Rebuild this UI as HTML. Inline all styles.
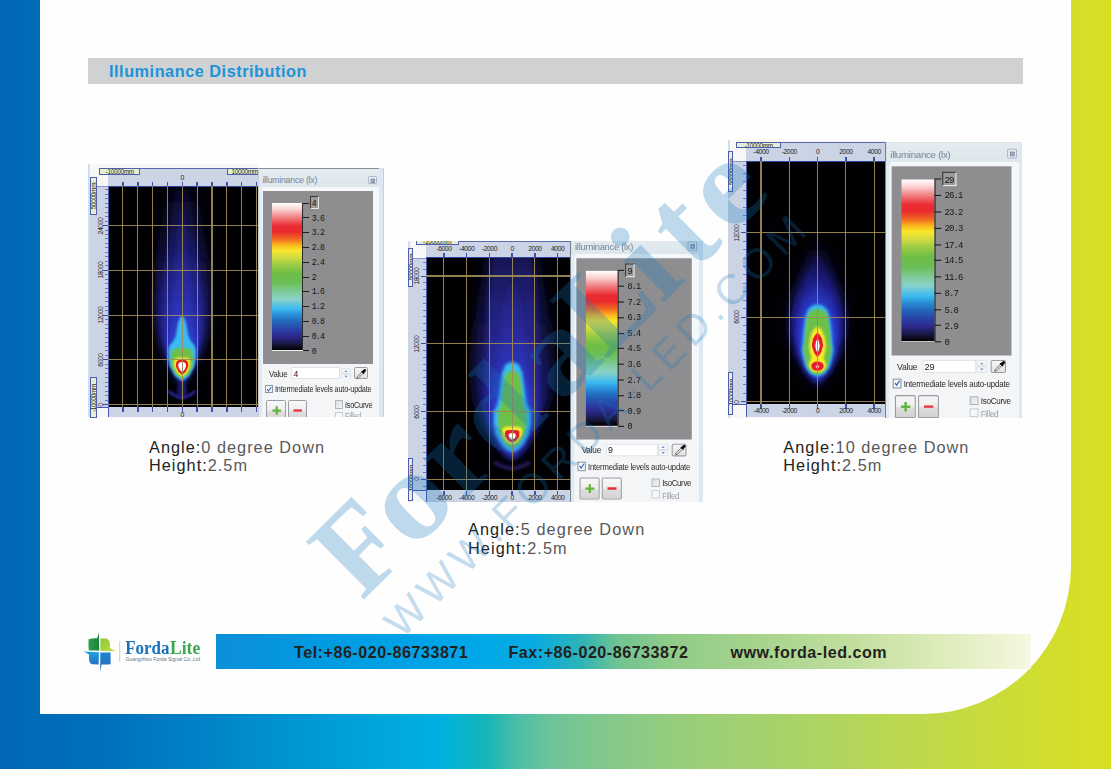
<!DOCTYPE html><html><head><meta charset="utf-8"><title>Illuminance Distribution</title><style>
*{box-sizing:border-box;margin:0;padding:0}
html,body{width:1111px;height:769px;overflow:hidden}
body{position:relative;font-family:"Liberation Sans",sans-serif;
 background:linear-gradient(to right,#0068b7 0px,#006fbc 100px,#0082c7 200px,#0097d4 300px,#00a9de 400px,#00b0e0 440px,#14b5ba 485px,#4fbfa6 520px,#6cc49a 551px,#82c88c 600px,#9bcf78 700px,#aad367 800px,#bbd850 900px,#cbdc38 1000px,#d9e021 1111px);}
.abs{position:absolute}
#paper{position:absolute;left:40px;top:0;width:1031px;height:714px;background:#fefefe;border-bottom-right-radius:148px 148px}
#hdr{position:absolute;left:88px;top:58px;width:935px;height:25.5px;background:#d0d1d3}
#hdr span{position:absolute;left:21px;top:3.5px;font-weight:bold;font-size:16.3px;line-height:18px;color:#1b93d9;white-space:nowrap;letter-spacing:.52px}
.cap{position:absolute;font-size:16.3px;line-height:17.85px;color:#58595b;white-space:nowrap;letter-spacing:1.02px}
.cap b{font-weight:normal;color:#231f20}
#fbar{position:absolute;left:216px;top:634px;width:815px;height:34.6px;
 background:linear-gradient(to right,#0c8fd9 0px,#009ce2 120px,#00a8e8 260px,#08abe0 318px,#2db3b8 364px,#6fc392 402px,#8fcc88 452px,#a5d38c 540px,#c3dfa0 640px,#dcebb8 720px,#eef4d4 790px,#f6f8e4 815px)}
.ft{position:absolute;top:643.2px;font-weight:bold;font-size:16.1px;line-height:18px;color:#231f20;white-space:nowrap;letter-spacing:.52px}

.pn{position:absolute;overflow:hidden}
.pi{position:absolute;left:0;width:126.2px;height:262px;transform-origin:0 0;background:#f4f5f6;font-size:8.4px;color:#222}
.pi div,.pi span,.pi svg{position:absolute}
.pi .tb{left:0;top:0;width:126.2px;height:22px;background:linear-gradient(to bottom,#e6edf1,#dbe5eb)}
.pi .lb{left:0;top:0;width:1.1px;height:262px;background:#76828f}
.pi .rb{left:121.8px;top:0;width:4.4px;height:262px;background:#dde8f3}
.pi .lb2{left:1px;top:18.6px;width:3.3px;height:244px;background:#e2eaf2}
.pi .rb2{left:125.6px;top:0;width:.6px;height:262px;background:#c5d0dc}
.pi .tl{left:0;top:0;width:126.2px;height:.9px;background:#8a8f96}
.pi .tt{left:4.8px;top:6.6px;font-size:8.9px;line-height:10px;color:#75849a;letter-spacing:-.28px;white-space:nowrap}
.pi .cx{left:110.6px;top:7.3px;width:9.1px;height:8.9px;border:.8px solid #a9b7cc;border-radius:1.2px;background:#e9eef3}
.pi .wf{left:4.7px;top:18.6px;width:116.9px;height:178px;background:#f5f8fa}
.pi .ga{left:5.5px;top:22.5px;width:109.7px;height:172.9px;background:#8e8e90}
.pi .cb{left:14.6px;top:34.9px;width:30.2px;height:147.8px}
.pi .cbl{left:14.6px;top:181.6px;width:31px;height:1.3px;background:#f2f2f2}
.pi .cbr{left:44.6px;top:34.9px;width:.9px;height:148px;background:#2a2a2a}
.pi .tk{left:45px;width:6px;height:1px;background:#1c1c1c}
.pi .nl{left:54.2px;font-family:"Liberation Mono",monospace;font-size:8.2px;line-height:9px;letter-spacing:-.85px;color:#161616;white-space:nowrap}
.pi .nb{left:52.1px;top:28.1px;height:12.8px;border:1px solid #3a3a3a;border-right-color:#e8e8e8;border-bottom-color:#e8e8e8;background:#9a9a9c}
.pi .vl{left:11.4px;top:200.4px;line-height:10px;letter-spacing:-.2px;transform-origin:0 50%;transform:scaleX(.93);color:#2a2a2a}
.pi .in{left:33.9px;top:199.1px;width:49px;height:11.8px;background:#fff;border:.8px solid #dfe3e8}
.pi .inv{left:35.8px;top:200.4px;line-height:10px}
.pi .sp{left:82.9px;top:199.1px;width:10px;height:11.8px;border:.8px solid transparent}
.pi .ed{left:96.4px;top:199.1px;width:14px;height:11.8px;background:linear-gradient(to bottom,#f6f6f6,#e2e2e2);border:.9px solid #9a9da2;border-radius:1.6px}
.pi .ck{width:8.2px;height:8.2px;background:#f7f8f9;border:.9px solid #8e99a8}
.pi .il{left:17px;top:215.9px;line-height:10px;letter-spacing:-.2px;white-space:nowrap;transform-origin:0 50%;transform:scaleX(.868);color:#2a2a2a}
.pi .bt{top:231.3px;height:21px;border:.9px solid #9a9da2;border-radius:1.6px;background:linear-gradient(to bottom,#f8f8f8 0%,#ededed 50%,#dedede 52%,#d4d4d4 100%)}
.pi .cl{line-height:10px;letter-spacing:-.3px;white-space:nowrap;transform-origin:0 50%;transform:scaleX(.88);color:#2a2a2a}

.pl{position:absolute}
.pl div,.pl svg,.pl span{position:absolute}
.rl{font-size:6.8px;line-height:8px;color:#1c1c28;letter-spacing:-.42px;white-space:nowrap;transform:translate(-50%,-50%)}
.rv{font-size:6.8px;line-height:8px;color:#1c1c28;letter-spacing:-.42px;white-space:nowrap;transform:translate(-50%,-50%) rotate(-90deg)}
.lbx{background:#e5efd2;border:.8px solid #4f5fae;overflow:hidden}
.lbx span{font-size:6.4px;line-height:7px;color:#2a2a20;letter-spacing:-.3px;white-space:nowrap;left:50%;top:50%}
</style></head><body>
<div id="paper"></div>
<div id="hdr"><span>Illuminance Distribution</span></div>
<div class="abs" style="left:0;top:0;width:383.8px;height:417.5px;overflow:hidden"><div class="pl" style="left:0;top:0;width:0;height:0"><div style="left:88px;top:163.6px;width:170px;height:253.9px;background:#f7f7f8;overflow:hidden"></div><div style="left:88px;top:163.6px;width:1.6px;height:253.9px;background:#cfdff0"></div><div style="left:108.4px;top:168px;width:149.20px;height:18.40px;background:#cbd4e4;border-top:.9px solid #5a6ab2"></div><div style="left:108.4px;top:406.80px;width:149.20px;height:10.70px;background:#cbd4e4"></div><div style="left:94.60px;top:406.95px;width:13.80px;height:.9px;background:#4a5ab0"></div><div style="left:89.6px;top:186.4px;width:18.80px;height:221.00px;background:#cbd4e4;border-top:.9px solid #8a98cc"></div><div style="left:105.20px;top:189.21px;width:3.2px;height:.9px;background:#6a7ac6"></div><div style="left:105.20px;top:193.69px;width:3.2px;height:.9px;background:#6a7ac6"></div><div style="left:105.20px;top:198.17px;width:3.2px;height:.9px;background:#6a7ac6"></div><div style="left:105.20px;top:202.65px;width:3.2px;height:.9px;background:#6a7ac6"></div><div style="left:105.20px;top:207.13px;width:3.2px;height:.9px;background:#6a7ac6"></div><div style="left:105.20px;top:211.61px;width:3.2px;height:.9px;background:#6a7ac6"></div><div style="left:105.20px;top:216.09px;width:3.2px;height:.9px;background:#6a7ac6"></div><div style="left:105.20px;top:220.57px;width:3.2px;height:.9px;background:#6a7ac6"></div><div style="left:102.80px;top:225.05px;width:5.6px;height:.9px;background:#3448b4"></div><div style="left:105.20px;top:229.53px;width:3.2px;height:.9px;background:#6a7ac6"></div><div style="left:105.20px;top:234.01px;width:3.2px;height:.9px;background:#6a7ac6"></div><div style="left:105.20px;top:238.49px;width:3.2px;height:.9px;background:#6a7ac6"></div><div style="left:105.20px;top:242.97px;width:3.2px;height:.9px;background:#6a7ac6"></div><div style="left:105.20px;top:247.45px;width:3.2px;height:.9px;background:#6a7ac6"></div><div style="left:105.20px;top:251.93px;width:3.2px;height:.9px;background:#6a7ac6"></div><div style="left:105.20px;top:256.41px;width:3.2px;height:.9px;background:#6a7ac6"></div><div style="left:105.20px;top:260.89px;width:3.2px;height:.9px;background:#6a7ac6"></div><div style="left:105.20px;top:265.37px;width:3.2px;height:.9px;background:#6a7ac6"></div><div style="left:102.80px;top:269.85px;width:5.6px;height:.9px;background:#3448b4"></div><div style="left:105.20px;top:274.33px;width:3.2px;height:.9px;background:#6a7ac6"></div><div style="left:105.20px;top:278.81px;width:3.2px;height:.9px;background:#6a7ac6"></div><div style="left:105.20px;top:283.29px;width:3.2px;height:.9px;background:#6a7ac6"></div><div style="left:105.20px;top:287.77px;width:3.2px;height:.9px;background:#6a7ac6"></div><div style="left:105.20px;top:292.25px;width:3.2px;height:.9px;background:#6a7ac6"></div><div style="left:105.20px;top:296.73px;width:3.2px;height:.9px;background:#6a7ac6"></div><div style="left:105.20px;top:301.21px;width:3.2px;height:.9px;background:#6a7ac6"></div><div style="left:105.20px;top:305.69px;width:3.2px;height:.9px;background:#6a7ac6"></div><div style="left:105.20px;top:310.17px;width:3.2px;height:.9px;background:#6a7ac6"></div><div style="left:102.80px;top:314.65px;width:5.6px;height:.9px;background:#3448b4"></div><div style="left:105.20px;top:319.13px;width:3.2px;height:.9px;background:#6a7ac6"></div><div style="left:105.20px;top:323.61px;width:3.2px;height:.9px;background:#6a7ac6"></div><div style="left:105.20px;top:328.09px;width:3.2px;height:.9px;background:#6a7ac6"></div><div style="left:105.20px;top:332.57px;width:3.2px;height:.9px;background:#6a7ac6"></div><div style="left:105.20px;top:337.05px;width:3.2px;height:.9px;background:#6a7ac6"></div><div style="left:105.20px;top:341.53px;width:3.2px;height:.9px;background:#6a7ac6"></div><div style="left:105.20px;top:346.01px;width:3.2px;height:.9px;background:#6a7ac6"></div><div style="left:105.20px;top:350.49px;width:3.2px;height:.9px;background:#6a7ac6"></div><div style="left:105.20px;top:354.97px;width:3.2px;height:.9px;background:#6a7ac6"></div><div style="left:102.80px;top:359.45px;width:5.6px;height:.9px;background:#3448b4"></div><div style="left:105.20px;top:363.93px;width:3.2px;height:.9px;background:#6a7ac6"></div><div style="left:105.20px;top:368.41px;width:3.2px;height:.9px;background:#6a7ac6"></div><div style="left:105.20px;top:372.89px;width:3.2px;height:.9px;background:#6a7ac6"></div><div style="left:105.20px;top:377.37px;width:3.2px;height:.9px;background:#6a7ac6"></div><div style="left:105.20px;top:381.85px;width:3.2px;height:.9px;background:#6a7ac6"></div><div style="left:105.20px;top:386.33px;width:3.2px;height:.9px;background:#6a7ac6"></div><div style="left:105.20px;top:390.81px;width:3.2px;height:.9px;background:#6a7ac6"></div><div style="left:105.20px;top:395.29px;width:3.2px;height:.9px;background:#6a7ac6"></div><div style="left:105.20px;top:399.77px;width:3.2px;height:.9px;background:#6a7ac6"></div><div style="left:102.80px;top:404.25px;width:5.6px;height:.9px;background:#3448b4"></div><div style="left:108.4px;top:186.4px;width:149.20px;height:221.00px;background:#010103"></div><div style="left:107.90px;top:185.80px;width:149.70px;height:.9px;background:#3444a4"></div><div style="left:107.80px;top:185.80px;width:.9px;height:231.70px;background:#4a5ab0"></div><svg style="left:108.4px;top:186.4px;width:149.20px;height:221.00px" viewBox="108.4 186.4 149.20 221.00" preserveAspectRatio="none"><defs><filter id="a1" x="-50%" y="-50%" width="200%" height="200%"><feGaussianBlur stdDeviation="4"/></filter><filter id="a2" x="-50%" y="-50%" width="200%" height="200%"><feGaussianBlur stdDeviation="2.8"/></filter><filter id="a3" x="-50%" y="-50%" width="200%" height="200%"><feGaussianBlur stdDeviation="1.3"/></filter><filter id="a4" x="-50%" y="-50%" width="200%" height="200%"><feGaussianBlur stdDeviation="0.8"/></filter><filter id="a5" x="-50%" y="-50%" width="200%" height="200%"><feGaussianBlur stdDeviation="0.45"/></filter><linearGradient id="ag1" gradientUnits="userSpaceOnUse" x1="0" y1="186" x2="0" y2="340"><stop offset="0" stop-color="#18185c" stop-opacity="0.14"/><stop offset="0.3" stop-color="#181860" stop-opacity="0.42"/><stop offset="0.7" stop-color="#1a1a6c" stop-opacity="0.85"/><stop offset="1" stop-color="#1c1c78" stop-opacity="0.95"/></linearGradient><linearGradient id="ag2" gradientUnits="userSpaceOnUse" x1="0" y1="186" x2="0" y2="340"><stop offset="0" stop-color="#24248c" stop-opacity="0.1"/><stop offset="0.3" stop-color="#242490" stop-opacity="0.36"/><stop offset="0.8" stop-color="#28289c" stop-opacity="0.88"/><stop offset="1" stop-color="#2828a8" stop-opacity="1"/></linearGradient><linearGradient id="ag3" gradientUnits="userSpaceOnUse" x1="0" y1="200" x2="0" y2="340"><stop offset="0" stop-color="#2a2eae" stop-opacity="0.05"/><stop offset="0.4" stop-color="#2a30b2" stop-opacity="0.35"/><stop offset="0.8" stop-color="#2a36c0" stop-opacity="0.8"/><stop offset="1" stop-color="#2a40d0" stop-opacity="0.95"/></linearGradient></defs><path filter="url(#a1)" fill="url(#ag1)" d="M182.5,387.0 L172.5,372.0 L165.5,358.0 L158.5,340.0 L154.5,318.0 L154.0,295.0 L155.5,270.0 L158.5,245.0 L162.5,220.0 L166.5,200.0 L169.5,182.0 L195.5,182.0 L198.5,200.0 L202.5,220.0 L206.5,245.0 L209.5,270.0 L211.0,295.0 L210.5,318.0 L206.5,340.0 L199.5,358.0 L192.5,372.0 L182.5,387.0Z"/><path filter="url(#a2)" fill="url(#ag2)" d="M182.5,385.0 L174.5,372.0 L168.5,358.0 L163.5,340.0 L161.5,318.0 L162.5,295.0 L165.5,270.0 L168.5,245.0 L171.5,220.0 L174.5,200.0 L176.5,184.0 L188.5,184.0 L190.5,200.0 L193.5,220.0 L196.5,245.0 L199.5,270.0 L202.5,295.0 L203.5,318.0 L201.5,340.0 L196.5,358.0 L190.5,372.0 L182.5,385.0Z"/><path filter="url(#a2)" fill="url(#ag3)" d="M182.5,384.0 L175.5,372.0 L170.5,358.0 L168.5,345.0 L170.5,325.0 L172.5,300.0 L174.5,275.0 L176.5,250.0 L178.5,225.0 L180.5,205.0 L184.5,205.0 L186.5,225.0 L188.5,250.0 L190.5,275.0 L192.5,300.0 L194.5,325.0 L196.5,345.0 L194.5,358.0 L189.5,372.0 L182.5,384.0Z"/><path filter="url(#a3)" fill="#3abcf0" d="M182.5,381.5 L175.5,376.5 L170.2,367.0 L168.7,358.0 L168.7,350.0 L170.0,346.0 L173.5,342.0 L176.0,337.0 L177.3,330.0 L178.5,323.0 L180.5,318.0 L182.5,315.5 L182.5,315.5 L184.5,318.0 L186.5,323.0 L187.7,330.0 L189.0,337.0 L191.5,342.0 L195.0,346.0 L196.3,350.0 L196.3,358.0 L194.8,367.0 L189.5,376.5 L182.5,381.5Z"/><path filter="url(#a4)" fill="#6cc04a" d="M182.5,379.3 L176.5,375.0 L172.3,367.0 L171.7,358.0 L172.1,351.5 L175.5,349.0 L182.5,348.4 L182.5,348.4 L189.5,349.0 L192.9,351.5 L193.3,358.0 L192.7,367.0 L188.5,375.0 L182.5,379.3Z"/><path filter="url(#a4)" fill="#f6e92a" d="M182.5,377.6 L177.5,373.5 L174.2,367.0 L174.2,361.0 L176.5,358.2 L182.5,357.7 L182.5,357.7 L188.5,358.2 L190.8,361.0 L190.8,367.0 L187.5,373.5 L182.5,377.6Z"/><path filter="url(#a5)" fill="#e61f2c" d="M182.5,375.2 L179.0,372.5 L176.3,367.0 L176.7,362.5 L179.0,360.4 L182.5,360.1 L182.5,360.1 L186.0,360.4 L188.3,362.5 L188.7,367.0 L186.0,372.5 L182.5,375.2Z"/><path filter="url(#a5)" fill="#fff" d="M182.5,372.6 L180.0,370.0 L178.5,366.5 L178.9,363.8 L180.5,362.7 L182.5,362.5 L182.5,362.5 L184.5,362.7 L186.1,363.8 L186.5,366.5 L185.0,370.0 L182.5,372.6Z"/><path filter="url(#a3)" fill="#20208a" opacity=".7" d="M182.5,399.0 L177.5,396.0 L177.5,390.0 L178.5,384.0 L186.5,384.0 L187.5,390.0 L187.5,396.0 L182.5,399.0Z"/><path filter="url(#a3)" fill="none" stroke="#2c2cb0" stroke-width="2.8" opacity=".9" d="M169.0,391.5 Q176.5,397.5 182.5,398.5 Q188.5,397.5 196.0,391.5"/></svg><div style="left:122.35px;top:186.4px;width:1.1px;height:221.00px;background:#9f8b58;opacity:.92"></div><div style="left:122.10px;top:181.60px;width:1.6px;height:4.8px;background:#3f50aa"></div><div style="left:122.10px;top:407.4px;width:1.6px;height:4.6px;background:#3f50aa"></div><div style="left:137.20px;top:186.4px;width:1.1px;height:221.00px;background:#9f8b58;opacity:.92"></div><div style="left:136.95px;top:181.60px;width:1.6px;height:4.8px;background:#3f50aa"></div><div style="left:136.95px;top:407.4px;width:1.6px;height:4.6px;background:#3f50aa"></div><div style="left:152.05px;top:186.4px;width:1.1px;height:221.00px;background:#9f8b58;opacity:.92"></div><div style="left:151.80px;top:181.60px;width:1.6px;height:4.8px;background:#3f50aa"></div><div style="left:151.80px;top:407.4px;width:1.6px;height:4.6px;background:#3f50aa"></div><div style="left:166.90px;top:186.4px;width:1.1px;height:221.00px;background:#9f8b58;opacity:.92"></div><div style="left:166.65px;top:181.60px;width:1.6px;height:4.8px;background:#3f50aa"></div><div style="left:166.65px;top:407.4px;width:1.6px;height:4.6px;background:#3f50aa"></div><div style="left:181.75px;top:186.4px;width:1.1px;height:221.00px;background:#9f8b58;opacity:.92"></div><div style="left:181.50px;top:181.60px;width:1.6px;height:4.8px;background:#3f50aa"></div><div style="left:181.50px;top:407.4px;width:1.6px;height:4.6px;background:#3f50aa"></div><div style="left:196.60px;top:186.4px;width:1.1px;height:221.00px;background:#9f8b58;opacity:.92"></div><div style="left:196.35px;top:181.60px;width:1.6px;height:4.8px;background:#3f50aa"></div><div style="left:196.35px;top:407.4px;width:1.6px;height:4.6px;background:#3f50aa"></div><div style="left:211.45px;top:186.4px;width:1.1px;height:221.00px;background:#9f8b58;opacity:.92"></div><div style="left:211.20px;top:181.60px;width:1.6px;height:4.8px;background:#3f50aa"></div><div style="left:211.20px;top:407.4px;width:1.6px;height:4.6px;background:#3f50aa"></div><div style="left:226.30px;top:186.4px;width:1.1px;height:221.00px;background:#9f8b58;opacity:.92"></div><div style="left:226.05px;top:181.60px;width:1.6px;height:4.8px;background:#3f50aa"></div><div style="left:226.05px;top:407.4px;width:1.6px;height:4.6px;background:#3f50aa"></div><div style="left:241.15px;top:186.4px;width:1.1px;height:221.00px;background:#9f8b58;opacity:.92"></div><div style="left:240.90px;top:181.60px;width:1.6px;height:4.8px;background:#3f50aa"></div><div style="left:240.90px;top:407.4px;width:1.6px;height:4.6px;background:#3f50aa"></div><div style="left:256.00px;top:186.4px;width:1.1px;height:221.00px;background:#9f8b58;opacity:.92"></div><div style="left:255.75px;top:181.60px;width:1.6px;height:4.8px;background:#3f50aa"></div><div style="left:255.75px;top:407.4px;width:1.6px;height:4.6px;background:#3f50aa"></div><div style="left:108.4px;top:404.15px;width:149.20px;height:1.1px;background:#9f8b58;opacity:.92"></div><div style="left:108.4px;top:359.35px;width:149.20px;height:1.1px;background:#9f8b58;opacity:.92"></div><div style="left:108.4px;top:314.55px;width:149.20px;height:1.1px;background:#9f8b58;opacity:.92"></div><div style="left:108.4px;top:269.75px;width:149.20px;height:1.1px;background:#9f8b58;opacity:.92"></div><div style="left:108.4px;top:224.95px;width:149.20px;height:1.1px;background:#9f8b58;opacity:.92"></div><span class="rl" style="left:182.30px;top:177.6px">0</span><span class="rl" style="left:182.30px;top:414.6px">0</span><span class="rv" style="left:100.6px;top:404.70px">0</span><span class="rv" style="left:100.6px;top:359.90px">6000</span><span class="rv" style="left:100.6px;top:315.10px">12000</span><span class="rv" style="left:100.6px;top:270.30px">18000</span><span class="rv" style="left:100.6px;top:225.50px">24000</span><div class="lbx" style="left:99.1px;top:168px;width:41.20px;height:6.90px"><span style="transform:translate(-50%,-50%)">-10000mm</span></div><div class="lbx" style="left:227.4px;top:168px;width:34.60px;height:6.90px"><span style="transform:translate(-50%,-50%)">10000mm</span></div><div class="lbx" style="left:90.2px;top:177.4px;width:6.50px;height:37.20px"><span style="transform:translate(-50%,-50%) rotate(-90deg)">50000mm</span></div><div class="lbx" style="left:90.2px;top:377.4px;width:6.50px;height:41.10px"><span style="transform:translate(-50%,-50%) rotate(-90deg)">-10000mm</span></div></div></div>
<div class="abs" style="left:0;top:240.7px;width:703.3px;height:261.8px;overflow:hidden"><div class="abs" style="left:0;top:-240.7px"><div class="pl" style="left:0;top:0;width:0;height:0"><div style="left:408px;top:240.7px;width:163px;height:261.8px;background:#f7f7f8;overflow:hidden"></div><div style="left:408px;top:240.7px;width:1.6px;height:261.8px;background:#cfdff0"></div><div style="left:426.2px;top:240.7px;width:144.20px;height:17.10px;background:#cbd4e4;border-top:.9px solid #5a6ab2"></div><div style="left:426.2px;top:489.90px;width:144.20px;height:12.60px;background:#cbd4e4"></div><div style="left:413.00px;top:490.05px;width:13.20px;height:.9px;background:#4a5ab0"></div><div style="left:408px;top:257.8px;width:18.20px;height:232.70px;background:#cbd4e4;border-top:.9px solid #8a98cc"></div><div style="left:423.00px;top:262.11px;width:3.2px;height:.9px;background:#6a7ac6"></div><div style="left:423.00px;top:268.88px;width:3.2px;height:.9px;background:#6a7ac6"></div><div style="left:420.60px;top:275.65px;width:5.6px;height:.9px;background:#3448b4"></div><div style="left:423.00px;top:282.42px;width:3.2px;height:.9px;background:#6a7ac6"></div><div style="left:423.00px;top:289.19px;width:3.2px;height:.9px;background:#6a7ac6"></div><div style="left:423.00px;top:295.96px;width:3.2px;height:.9px;background:#6a7ac6"></div><div style="left:423.00px;top:302.73px;width:3.2px;height:.9px;background:#6a7ac6"></div><div style="left:423.00px;top:309.50px;width:3.2px;height:.9px;background:#6a7ac6"></div><div style="left:423.00px;top:316.27px;width:3.2px;height:.9px;background:#6a7ac6"></div><div style="left:423.00px;top:323.04px;width:3.2px;height:.9px;background:#6a7ac6"></div><div style="left:423.00px;top:329.81px;width:3.2px;height:.9px;background:#6a7ac6"></div><div style="left:423.00px;top:336.58px;width:3.2px;height:.9px;background:#6a7ac6"></div><div style="left:420.60px;top:343.35px;width:5.6px;height:.9px;background:#3448b4"></div><div style="left:423.00px;top:350.12px;width:3.2px;height:.9px;background:#6a7ac6"></div><div style="left:423.00px;top:356.89px;width:3.2px;height:.9px;background:#6a7ac6"></div><div style="left:423.00px;top:363.66px;width:3.2px;height:.9px;background:#6a7ac6"></div><div style="left:423.00px;top:370.43px;width:3.2px;height:.9px;background:#6a7ac6"></div><div style="left:423.00px;top:377.20px;width:3.2px;height:.9px;background:#6a7ac6"></div><div style="left:423.00px;top:383.97px;width:3.2px;height:.9px;background:#6a7ac6"></div><div style="left:423.00px;top:390.74px;width:3.2px;height:.9px;background:#6a7ac6"></div><div style="left:423.00px;top:397.51px;width:3.2px;height:.9px;background:#6a7ac6"></div><div style="left:423.00px;top:404.28px;width:3.2px;height:.9px;background:#6a7ac6"></div><div style="left:420.60px;top:411.05px;width:5.6px;height:.9px;background:#3448b4"></div><div style="left:423.00px;top:417.82px;width:3.2px;height:.9px;background:#6a7ac6"></div><div style="left:423.00px;top:424.59px;width:3.2px;height:.9px;background:#6a7ac6"></div><div style="left:423.00px;top:431.36px;width:3.2px;height:.9px;background:#6a7ac6"></div><div style="left:423.00px;top:438.13px;width:3.2px;height:.9px;background:#6a7ac6"></div><div style="left:423.00px;top:444.90px;width:3.2px;height:.9px;background:#6a7ac6"></div><div style="left:423.00px;top:451.67px;width:3.2px;height:.9px;background:#6a7ac6"></div><div style="left:423.00px;top:458.44px;width:3.2px;height:.9px;background:#6a7ac6"></div><div style="left:423.00px;top:465.21px;width:3.2px;height:.9px;background:#6a7ac6"></div><div style="left:423.00px;top:471.98px;width:3.2px;height:.9px;background:#6a7ac6"></div><div style="left:420.60px;top:478.75px;width:5.6px;height:.9px;background:#3448b4"></div><div style="left:423.00px;top:485.52px;width:3.2px;height:.9px;background:#6a7ac6"></div><div style="left:426.2px;top:257.8px;width:144.20px;height:232.70px;background:#010103"></div><div style="left:425.70px;top:257.20px;width:144.70px;height:.9px;background:#3444a4"></div><div style="left:425.60px;top:257.20px;width:.9px;height:245.30px;background:#4a5ab0"></div><svg style="left:426.2px;top:257.8px;width:144.20px;height:232.70px" viewBox="426.2 257.8 144.20 232.70" preserveAspectRatio="none"><defs><filter id="b1" x="-50%" y="-50%" width="200%" height="200%"><feGaussianBlur stdDeviation="5"/></filter><filter id="b2" x="-50%" y="-50%" width="200%" height="200%"><feGaussianBlur stdDeviation="3.2"/></filter><filter id="b3" x="-50%" y="-50%" width="200%" height="200%"><feGaussianBlur stdDeviation="1.5"/></filter><filter id="b4" x="-50%" y="-50%" width="200%" height="200%"><feGaussianBlur stdDeviation="0.9"/></filter><filter id="b5" x="-50%" y="-50%" width="200%" height="200%"><feGaussianBlur stdDeviation="0.5"/></filter><linearGradient id="bg1" gradientUnits="userSpaceOnUse" x1="0" y1="252" x2="0" y2="400"><stop offset="0" stop-color="#18185c" stop-opacity="0.35"/><stop offset="0.4" stop-color="#181860" stop-opacity="0.6"/><stop offset="1" stop-color="#1a1a6c" stop-opacity="0.92"/></linearGradient><linearGradient id="bg2" gradientUnits="userSpaceOnUse" x1="0" y1="252" x2="0" y2="390"><stop offset="0" stop-color="#28268e" stop-opacity="0.4"/><stop offset="0.4" stop-color="#2a2898" stop-opacity="0.7"/><stop offset="1" stop-color="#2c2aa8" stop-opacity="0.96"/></linearGradient><linearGradient id="bg3" gradientUnits="userSpaceOnUse" x1="0" y1="280" x2="0" y2="400"><stop offset="0" stop-color="#2c30b0" stop-opacity="0.1"/><stop offset="0.5" stop-color="#2c34b8" stop-opacity="0.5"/><stop offset="1" stop-color="#2a42d4" stop-opacity="1"/></linearGradient></defs><path filter="url(#b1)" fill="url(#bg1)" d="M512.4,462.0 L497.4,447.0 L484.4,425.0 L475.4,400.0 L472.4,370.0 L473.4,340.0 L477.4,305.0 L482.4,275.0 L485.4,250.0 L539.4,250.0 L542.4,275.0 L547.4,305.0 L551.4,340.0 L552.4,370.0 L549.4,400.0 L540.4,425.0 L527.4,447.0 L512.4,462.0Z"/><path filter="url(#b2)" fill="url(#bg2)" d="M512.4,459.0 L499.9,447.0 L489.9,428.0 L485.4,405.0 L485.4,370.0 L486.4,335.0 L487.9,300.0 L490.4,270.0 L492.4,250.0 L532.4,250.0 L534.4,270.0 L536.9,300.0 L538.4,335.0 L539.4,370.0 L539.4,405.0 L534.9,428.0 L524.9,447.0 L512.4,459.0Z"/><path filter="url(#b2)" fill="url(#bg3)" d="M512.4,456.0 L502.4,446.0 L494.4,430.0 L491.4,415.0 L493.4,395.0 L496.4,370.0 L499.4,340.0 L503.4,310.0 L507.4,285.0 L517.4,285.0 L521.4,310.0 L525.4,340.0 L528.4,370.0 L531.4,395.0 L533.4,415.0 L530.4,430.0 L522.4,446.0 L512.4,456.0Z"/><path filter="url(#b3)" fill="#3abcf0" d="M512.4,452.0 L506.4,449.0 L501.9,444.5 L496.2,434.5 L493.8,423.0 L494.0,411.5 L497.4,405.0 L498.6,400.0 L500.6,384.0 L502.4,372.0 L505.9,364.0 L512.4,361.2 L512.4,361.2 L518.9,364.0 L522.4,372.0 L524.2,384.0 L526.2,400.0 L527.4,405.0 L530.8,411.5 L531.0,423.0 L528.6,434.5 L522.9,444.5 L518.4,449.0 L512.4,452.0Z"/><path filter="url(#b4)" fill="#6cc04a" d="M512.4,448.4 L506.2,444.6 L500.1,434.5 L498.1,423.0 L498.3,411.5 L501.0,405.5 L501.8,400.7 L503.5,383.8 L504.9,376.0 L508.4,371.2 L512.4,370.0 L512.4,370.0 L516.4,371.2 L519.9,376.0 L521.3,383.8 L523.0,400.7 L523.8,405.5 L526.5,411.5 L526.7,423.0 L524.7,434.5 L518.6,444.6 L512.4,448.4Z"/><path filter="url(#b4)" fill="#f6e92a" d="M512.4,444.8 L506.4,442.0 L502.4,436.0 L502.2,429.3 L504.8,426.6 L512.4,426.2 L512.4,426.2 L520.0,426.6 L522.6,429.3 L522.4,436.0 L518.4,442.0 L512.4,444.8Z"/><path filter="url(#b5)" fill="#e61f2c" d="M512.4,442.4 L508.4,440.3 L505.4,436.0 L505.2,431.5 L506.9,430.0 L512.4,429.7 L512.4,429.7 L517.9,430.0 L519.6,431.5 L519.4,436.0 L516.4,440.3 L512.4,442.4Z"/><path filter="url(#b5)" fill="#fff" d="M512.4,439.9 L509.8,438.0 L508.8,435.5 L509.4,433.4 L512.4,432.7 L512.4,432.7 L515.4,433.4 L516.0,435.5 L515.0,438.0 L512.4,439.9Z"/><path filter="url(#b3)" fill="none" stroke="#3a2a98" stroke-width="3.2" opacity=".7" d="M494.4,462 Q504.4,468 512.4,468.5 Q520.4,468 530.4,462"/></svg><div style="left:443.40px;top:257.8px;width:1.1px;height:232.70px;background:#9f8b58;opacity:.92"></div><div style="left:443.15px;top:253.00px;width:1.6px;height:4.8px;background:#3f50aa"></div><div style="left:443.15px;top:490.5px;width:1.6px;height:4.6px;background:#3f50aa"></div><div style="left:466.15px;top:257.8px;width:1.1px;height:232.70px;background:#9f8b58;opacity:.92"></div><div style="left:465.90px;top:253.00px;width:1.6px;height:4.8px;background:#3f50aa"></div><div style="left:465.90px;top:490.5px;width:1.6px;height:4.6px;background:#3f50aa"></div><div style="left:488.90px;top:257.8px;width:1.1px;height:232.70px;background:#9f8b58;opacity:.92"></div><div style="left:488.65px;top:253.00px;width:1.6px;height:4.8px;background:#3f50aa"></div><div style="left:488.65px;top:490.5px;width:1.6px;height:4.6px;background:#3f50aa"></div><div style="left:511.65px;top:257.8px;width:1.1px;height:232.70px;background:#9f8b58;opacity:.92"></div><div style="left:511.40px;top:253.00px;width:1.6px;height:4.8px;background:#3f50aa"></div><div style="left:511.40px;top:490.5px;width:1.6px;height:4.6px;background:#3f50aa"></div><div style="left:534.40px;top:257.8px;width:1.1px;height:232.70px;background:#9f8b58;opacity:.92"></div><div style="left:534.15px;top:253.00px;width:1.6px;height:4.8px;background:#3f50aa"></div><div style="left:534.15px;top:490.5px;width:1.6px;height:4.6px;background:#3f50aa"></div><div style="left:557.15px;top:257.8px;width:1.1px;height:232.70px;background:#9f8b58;opacity:.92"></div><div style="left:556.90px;top:253.00px;width:1.6px;height:4.8px;background:#3f50aa"></div><div style="left:556.90px;top:490.5px;width:1.6px;height:4.6px;background:#3f50aa"></div><div style="left:426.2px;top:478.65px;width:144.20px;height:1.1px;background:#9f8b58;opacity:.92"></div><div style="left:426.2px;top:410.95px;width:144.20px;height:1.1px;background:#9f8b58;opacity:.92"></div><div style="left:426.2px;top:343.05px;width:144.20px;height:1.1px;background:#9f8b58;opacity:.92"></div><div style="left:426.2px;top:275.45px;width:144.20px;height:1.1px;background:#9f8b58;opacity:.92"></div><span class="rl" style="left:443.95px;top:248.6px">-6000</span><span class="rl" style="left:443.95px;top:497.8px">-6000</span><span class="rl" style="left:466.70px;top:248.6px">-4000</span><span class="rl" style="left:466.70px;top:497.8px">-4000</span><span class="rl" style="left:489.45px;top:248.6px">-2000</span><span class="rl" style="left:489.45px;top:497.8px">-2000</span><span class="rl" style="left:512.20px;top:248.6px">0</span><span class="rl" style="left:512.20px;top:497.8px">0</span><span class="rl" style="left:534.95px;top:248.6px">2000</span><span class="rl" style="left:534.95px;top:497.8px">2000</span><span class="rl" style="left:557.70px;top:248.6px">4000</span><span class="rl" style="left:557.70px;top:497.8px">4000</span><span class="rv" style="left:417px;top:479.20px">0</span><span class="rv" style="left:417px;top:411.50px">6000</span><span class="rv" style="left:417px;top:343.60px">12000</span><span class="rv" style="left:417px;top:276.00px">18000</span><div class="lbx" style="left:415.8px;top:236px;width:42.80px;height:9.10px"><span style="transform:translate(-50%,-50%)">-10000mm</span></div><div class="lbx" style="left:408.4px;top:248.4px;width:4.80px;height:38.20px"><span style="transform:translate(-50%,-50%) rotate(-90deg)">50000mm</span></div><div class="lbx" style="left:408.4px;top:458.3px;width:4.80px;height:42.40px"><span style="transform:translate(-50%,-50%) rotate(-90deg)">-10000mm</span></div></div></div></div>
<div class="abs" style="left:0;top:0;width:1023px;height:418px;overflow:hidden"><div class="pl" style="left:0;top:0;width:0;height:0"><div style="left:728px;top:140px;width:158px;height:278px;background:#f7f7f8;overflow:hidden"></div><div style="left:728px;top:140px;width:1.6px;height:278px;background:#cfdff0"></div><div style="left:746.2px;top:141.5px;width:139.40px;height:19.80px;background:#cbd4e4;border-top:.9px solid #5a6ab2"></div><div style="left:746.2px;top:403.50px;width:139.40px;height:13.50px;background:#cbd4e4"></div><div style="left:733.00px;top:403.65px;width:13.20px;height:.9px;background:#4a5ab0"></div><div style="left:728px;top:161.3px;width:18.20px;height:242.80px;background:#cbd4e4;border-top:.9px solid #8a98cc"></div><div style="left:743.00px;top:164.55px;width:3.2px;height:.9px;background:#6a7ac6"></div><div style="left:743.00px;top:173.00px;width:3.2px;height:.9px;background:#6a7ac6"></div><div style="left:743.00px;top:181.45px;width:3.2px;height:.9px;background:#6a7ac6"></div><div style="left:743.00px;top:189.90px;width:3.2px;height:.9px;background:#6a7ac6"></div><div style="left:743.00px;top:198.35px;width:3.2px;height:.9px;background:#6a7ac6"></div><div style="left:743.00px;top:206.80px;width:3.2px;height:.9px;background:#6a7ac6"></div><div style="left:743.00px;top:215.25px;width:3.2px;height:.9px;background:#6a7ac6"></div><div style="left:743.00px;top:223.70px;width:3.2px;height:.9px;background:#6a7ac6"></div><div style="left:740.60px;top:232.15px;width:5.6px;height:.9px;background:#3448b4"></div><div style="left:743.00px;top:240.60px;width:3.2px;height:.9px;background:#6a7ac6"></div><div style="left:743.00px;top:249.05px;width:3.2px;height:.9px;background:#6a7ac6"></div><div style="left:743.00px;top:257.50px;width:3.2px;height:.9px;background:#6a7ac6"></div><div style="left:743.00px;top:265.95px;width:3.2px;height:.9px;background:#6a7ac6"></div><div style="left:743.00px;top:274.40px;width:3.2px;height:.9px;background:#6a7ac6"></div><div style="left:743.00px;top:282.85px;width:3.2px;height:.9px;background:#6a7ac6"></div><div style="left:743.00px;top:291.30px;width:3.2px;height:.9px;background:#6a7ac6"></div><div style="left:743.00px;top:299.75px;width:3.2px;height:.9px;background:#6a7ac6"></div><div style="left:743.00px;top:308.20px;width:3.2px;height:.9px;background:#6a7ac6"></div><div style="left:740.60px;top:316.65px;width:5.6px;height:.9px;background:#3448b4"></div><div style="left:743.00px;top:325.10px;width:3.2px;height:.9px;background:#6a7ac6"></div><div style="left:743.00px;top:333.55px;width:3.2px;height:.9px;background:#6a7ac6"></div><div style="left:743.00px;top:342.00px;width:3.2px;height:.9px;background:#6a7ac6"></div><div style="left:743.00px;top:350.45px;width:3.2px;height:.9px;background:#6a7ac6"></div><div style="left:743.00px;top:358.90px;width:3.2px;height:.9px;background:#6a7ac6"></div><div style="left:743.00px;top:367.35px;width:3.2px;height:.9px;background:#6a7ac6"></div><div style="left:743.00px;top:375.80px;width:3.2px;height:.9px;background:#6a7ac6"></div><div style="left:743.00px;top:384.25px;width:3.2px;height:.9px;background:#6a7ac6"></div><div style="left:743.00px;top:392.70px;width:3.2px;height:.9px;background:#6a7ac6"></div><div style="left:740.60px;top:401.15px;width:5.6px;height:.9px;background:#3448b4"></div><div style="left:746.2px;top:161.3px;width:139.40px;height:242.80px;background:#010103"></div><div style="left:745.70px;top:160.70px;width:139.90px;height:.9px;background:#3444a4"></div><div style="left:745.60px;top:160.70px;width:.9px;height:256.30px;background:#4a5ab0"></div><svg style="left:746.2px;top:161.3px;width:139.40px;height:242.80px" viewBox="746.2 161.3 139.40 242.80" preserveAspectRatio="none"><defs><filter id="c1" x="-50%" y="-50%" width="200%" height="200%"><feGaussianBlur stdDeviation="4.5"/></filter><filter id="c2" x="-50%" y="-50%" width="200%" height="200%"><feGaussianBlur stdDeviation="3"/></filter><filter id="c3" x="-50%" y="-50%" width="200%" height="200%"><feGaussianBlur stdDeviation="1.4"/></filter><filter id="c4" x="-50%" y="-50%" width="200%" height="200%"><feGaussianBlur stdDeviation="0.85"/></filter><filter id="c5" x="-50%" y="-50%" width="200%" height="200%"><feGaussianBlur stdDeviation="0.5"/></filter><linearGradient id="cg1" gradientUnits="userSpaceOnUse" x1="0" y1="240" x2="0" y2="320"><stop offset="0" stop-color="#181870" stop-opacity="0.1"/><stop offset="0.4" stop-color="#181870" stop-opacity="0.5"/><stop offset="1" stop-color="#1a1a78" stop-opacity="0.9"/></linearGradient><linearGradient id="cg2" gradientUnits="userSpaceOnUse" x1="0" y1="252" x2="0" y2="325"><stop offset="0" stop-color="#2828b4" stop-opacity="0.1"/><stop offset="0.45" stop-color="#2828b4" stop-opacity="0.55"/><stop offset="1" stop-color="#2828b4" stop-opacity="0.95"/></linearGradient><linearGradient id="cg3" gradientUnits="userSpaceOnUse" x1="0" y1="280" x2="0" y2="330"><stop offset="0" stop-color="#2a48dc" stop-opacity="0.15"/><stop offset="1" stop-color="#2a48dc" stop-opacity="0.95"/></linearGradient></defs><path filter="url(#c1)" fill="url(#cg1)" d="M817.7,386.0 L805.7,374.0 L795.7,356.0 L789.7,335.0 L788.7,318.0 L791.7,298.0 L797.7,278.0 L804.7,260.0 L811.7,246.0 L817.7,240.0 L817.7,240.0 L823.7,246.0 L830.7,260.0 L837.7,278.0 L843.7,298.0 L846.7,318.0 L845.7,335.0 L839.7,356.0 L829.7,374.0 L817.7,386.0Z"/><path filter="url(#c2)" fill="url(#cg2)" d="M817.7,382.5 L806.7,371.0 L798.7,354.0 L794.7,335.0 L794.7,318.0 L797.7,300.0 L803.7,281.0 L809.7,266.0 L814.7,256.0 L820.7,256.0 L825.7,266.0 L831.7,281.0 L837.7,300.0 L840.7,318.0 L840.7,335.0 L836.7,354.0 L828.7,371.0 L817.7,382.5Z"/><path filter="url(#c2)" fill="url(#cg3)" d="M817.7,380.5 L807.7,370.0 L801.2,355.0 L799.2,338.0 L800.7,320.0 L804.7,303.0 L810.7,290.0 L815.7,282.0 L819.7,282.0 L824.7,290.0 L830.7,303.0 L834.7,320.0 L836.2,338.0 L834.2,355.0 L827.7,370.0 L817.7,380.5Z"/><path filter="url(#c3)" fill="#3abcf0" d="M817.7,377.0 L810.7,374.3 L805.7,367.5 L803.2,358.0 L801.9,350.0 L802.9,342.0 L803.9,330.0 L805.4,318.0 L808.2,309.5 L813.2,305.6 L817.7,304.6 L817.7,304.6 L822.2,305.6 L827.2,309.5 L830.0,318.0 L831.5,330.0 L832.5,342.0 L833.5,350.0 L832.2,358.0 L829.7,367.5 L824.7,374.3 L817.7,377.0Z"/><path filter="url(#c4)" fill="#6cc04a" d="M817.7,375.0 L811.7,372.5 L807.2,366.0 L805.2,358.0 L803.4,350.0 L804.7,343.0 L805.3,333.0 L806.9,320.0 L809.2,313.0 L813.7,310.0 L817.7,309.1 L817.7,309.1 L821.7,310.0 L826.2,313.0 L828.5,320.0 L830.1,333.0 L830.7,343.0 L832.0,350.0 L830.2,358.0 L828.2,366.0 L823.7,372.5 L817.7,375.0Z"/><path filter="url(#c4)" fill="#f6e92a" d="M817.7,373.4 L812.1,371.4 L808.7,366.5 L809.9,361.5 L811.7,358.5 L809.9,352.0 L809.2,345.0 L810.5,337.0 L813.2,330.2 L817.7,326.2 L817.7,326.2 L822.2,330.2 L824.9,337.0 L826.2,345.0 L825.5,352.0 L823.7,358.5 L825.5,361.5 L826.7,366.5 L823.3,371.4 L817.7,373.4Z"/><path filter="url(#c5)" fill="#e61f2c" d="M817.7,357.8 L814.3,353.0 L812.0,346.0 L813.2,339.0 L815.4,335.3 L817.7,332.9 L817.7,332.9 L820.0,335.3 L822.2,339.0 L823.4,346.0 L821.1,353.0 L817.7,357.8Z"/><path filter="url(#c5)" fill="#fff" d="M817.7,353.6 L816.2,350.0 L815.5,346.0 L816.2,342.0 L817.7,338.9 L817.7,338.9 L819.2,342.0 L819.9,346.0 L819.2,350.0 L817.7,353.6Z"/><ellipse filter="url(#c5)" cx="817.7" cy="366.4" rx="6.2" ry="4.7" fill="#e61f2c"/><ellipse filter="url(#c5)" cx="817.7" cy="366.8" rx="1.9" ry="1.6" fill="#f4a8a0"/></svg><div style="left:760.45px;top:161.3px;width:1.1px;height:242.80px;background:#9f8b58;opacity:.92"></div><div style="left:760.20px;top:156.50px;width:1.6px;height:4.8px;background:#3f50aa"></div><div style="left:760.20px;top:404.1px;width:1.6px;height:4.6px;background:#3f50aa"></div><div style="left:788.75px;top:161.3px;width:1.1px;height:242.80px;background:#9f8b58;opacity:.92"></div><div style="left:788.50px;top:156.50px;width:1.6px;height:4.8px;background:#3f50aa"></div><div style="left:788.50px;top:404.1px;width:1.6px;height:4.6px;background:#3f50aa"></div><div style="left:817.05px;top:161.3px;width:1.1px;height:242.80px;background:#9f8b58;opacity:.92"></div><div style="left:816.80px;top:156.50px;width:1.6px;height:4.8px;background:#3f50aa"></div><div style="left:816.80px;top:404.1px;width:1.6px;height:4.6px;background:#3f50aa"></div><div style="left:845.35px;top:161.3px;width:1.1px;height:242.80px;background:#9f8b58;opacity:.92"></div><div style="left:845.10px;top:156.50px;width:1.6px;height:4.8px;background:#3f50aa"></div><div style="left:845.10px;top:404.1px;width:1.6px;height:4.6px;background:#3f50aa"></div><div style="left:873.65px;top:161.3px;width:1.1px;height:242.80px;background:#9f8b58;opacity:.92"></div><div style="left:873.40px;top:156.50px;width:1.6px;height:4.8px;background:#3f50aa"></div><div style="left:873.40px;top:404.1px;width:1.6px;height:4.6px;background:#3f50aa"></div><div style="left:746.2px;top:401.05px;width:139.40px;height:1.1px;background:#9f8b58;opacity:.92"></div><div style="left:746.2px;top:316.75px;width:139.40px;height:1.1px;background:#9f8b58;opacity:.92"></div><div style="left:746.2px;top:232.15px;width:139.40px;height:1.1px;background:#9f8b58;opacity:.92"></div><span class="rl" style="left:761.00px;top:151.8px">-4000</span><span class="rl" style="left:761.00px;top:411.4px">-4000</span><span class="rl" style="left:789.30px;top:151.8px">-2000</span><span class="rl" style="left:789.30px;top:411.4px">-2000</span><span class="rl" style="left:817.60px;top:151.8px">0</span><span class="rl" style="left:817.60px;top:411.4px">0</span><span class="rl" style="left:845.90px;top:151.8px">2000</span><span class="rl" style="left:845.90px;top:411.4px">2000</span><span class="rl" style="left:874.20px;top:151.8px">4000</span><span class="rl" style="left:874.20px;top:411.4px">4000</span><span class="rv" style="left:737.2px;top:401.60px">0</span><span class="rv" style="left:737.2px;top:317.30px">6000</span><span class="rv" style="left:737.2px;top:232.70px">12000</span><div class="lbx" style="left:736.4px;top:141.5px;width:44.90px;height:6.70px"><span style="transform:translate(-50%,-50%)">-10000mm</span></div><div class="lbx" style="left:728.4px;top:151px;width:4.90px;height:41.00px"><span style="transform:translate(-50%,-50%) rotate(-90deg)">50000mm</span></div><div class="lbx" style="left:728.4px;top:371.6px;width:4.90px;height:43.10px"><span style="transform:translate(-50%,-50%) rotate(-90deg)">-10000mm</span></div></div></div>
<div class="pn" style="left:257.6px;top:168.3px;width:126.2px;height:249.2px"><div class="pi" style="top:0.00px;transform:scale(1.0,1.0)"><div class="tb"></div><div class="tl"></div><div class="tt">illuminance (lx)</div><div class="cx"><svg viewBox="0 0 8 8" style="left:1.1px;top:1.1px;width:5.6px;height:5.6px"><path d="M1.5 1.5h5v5h-5zM1.5 1.5l5 5M6.5 1.5l-5 5" stroke="#6a7686" stroke-width="1.1" fill="none"/></svg></div><div class="wf"></div><div class="ga"></div><div class="cb" style="background:linear-gradient(to bottom,#ffffff 0%,#fbd0d0 4.5%,#f28a8c 9%,#ea2c34 15.5%,#ea2a2e 19.5%,#f26a22 24.5%,#fbb81c 28.5%,#fbe62c 32%,#d4dc40 36.5%,#9ccc44 41.5%,#6cbc46 48%,#6cbf58 54%,#80cba0 60.5%,#8ad2c8 65%,#3cbaf0 71.5%,#2a90d8 75.5%,#2268bc 80%,#2a3ea4 86%,#2c2a8e 90%,#16163c 95.5%,#04040a 98.5%,#000 100%)"></div><div class="cbr"></div><div class="cbl"></div><div class="tk" style="top:34.40px"></div><div class="nb" style="width:9.3px"></div><div class="nl" style="top:30.50px">4</div><div class="tk" style="top:49.18px"></div><div class="nl" style="top:45.28px">3.6</div><div class="tk" style="top:63.96px"></div><div class="nl" style="top:60.06px">3.2</div><div class="tk" style="top:78.74px"></div><div class="nl" style="top:74.84px">2.8</div><div class="tk" style="top:93.52px"></div><div class="nl" style="top:89.62px">2.4</div><div class="tk" style="top:108.30px"></div><div class="nl" style="top:104.40px">2</div><div class="tk" style="top:123.08px"></div><div class="nl" style="top:119.18px">1.6</div><div class="tk" style="top:137.86px"></div><div class="nl" style="top:133.96px">1.2</div><div class="tk" style="top:152.64px"></div><div class="nl" style="top:148.74px">0.8</div><div class="tk" style="top:167.42px"></div><div class="nl" style="top:163.52px">0.4</div><div class="tk" style="top:182.20px"></div><div class="nl" style="top:178.30px">0</div><div class="vl">Value</div><div class="in"></div><div class="inv">4</div><div class="sp"><svg viewBox="0 0 10 12" style="left:-.8px;top:-.8px;width:10px;height:11.8px"><rect x=".4" y=".4" width="9.2" height="5.2" rx=".8" fill="#f4f6f8" stroke="#d4d9df" stroke-width=".7"/><rect x=".4" y="6.4" width="9.2" height="5.2" rx=".8" fill="#f4f6f8" stroke="#d4d9df" stroke-width=".7"/><path d="M3.4 4L5 2.3L6.6 4zM3.4 8L5 9.7L6.6 8z" fill="#5b86d6"/></svg></div><div class="ed"><svg viewBox="0 0 14 12" style="left:-.9px;top:-.9px;width:14px;height:11.8px"><path d="M2.6 10.4L3.1 9L8.3 3.8L9.5 5L4.3 10.2z" fill="#fafafa" stroke="#2a2a2a" stroke-width=".65"/><path d="M7.7 3L10.3 5.6" stroke="#111" stroke-width="1.3"/><path d="M9.4 3.9L10.9 2.4" stroke="#0a0a0a" stroke-width="2.7" stroke-linecap="round"/></svg></div><div class="ck" style="left:7px;top:216.4px"><svg viewBox="0 0 8 8" style="left:0;top:0;width:6.4px;height:6.4px"><path d="M1.4 3.8L3.2 6.2L6.6 1.2" stroke="#2f5fc4" stroke-width="1.3" fill="none"/></svg></div><div class="il">Intermediate levels auto-update</div><div class="bt" style="left:8.8px;width:19.3px"><svg viewBox="0 0 20 21" style="left:-.9px;top:-.9px;width:19.3px;height:21px"><path d="M10.1 6.2v8.8M5.7 10.6h8.8" stroke="#62b23c" stroke-width="2.3"/></svg></div><div class="bt" style="left:30.1px;width:19.3px"><svg viewBox="0 0 20 21" style="left:-.9px;top:-.9px;width:19.3px;height:21px"><path d="M5.6 10.5h8.8" stroke="#e3303c" stroke-width="2.3"/></svg></div><div class="ck" style="left:77.1px;top:232.2px;background:linear-gradient(135deg,#dcdee1,#f4f5f6);border-color:#b2b7bf"></div><div class="cl" style="left:87px;top:231.4px">IsoCurve</div><div class="ck" style="left:77.1px;top:243.3px;border-color:#c9ced6"></div><div class="cl" style="left:87px;top:242.6px;color:#9a9ea6">Filled</div><div class="lb" style="background:#c3ccd8"></div><div class="lb2"></div><div class="rb"></div><div class="rb2"></div></div></div>
<div class="pn" style="left:570.2px;top:240.7px;width:133.1px;height:261.8px"><div class="pi" style="top:-6.90px;transform:scale(1.059,1.054)"><div class="tb"></div><div class="tl"></div><div class="tt">illuminance (lx)</div><div class="cx"><svg viewBox="0 0 8 8" style="left:1.1px;top:1.1px;width:5.6px;height:5.6px"><path d="M1.5 1.5h5v5h-5zM1.5 1.5l5 5M6.5 1.5l-5 5" stroke="#6a7686" stroke-width="1.1" fill="none"/></svg></div><div class="wf"></div><div class="ga"></div><div class="cb" style="background:linear-gradient(to bottom,#ffffff 0%,#fbd0d0 4.5%,#f28a8c 9%,#ea2c34 15.5%,#ea2a2e 19.5%,#f26a22 24.5%,#fbb81c 28.5%,#fbe62c 32%,#d4dc40 36.5%,#9ccc44 41.5%,#6cbc46 48%,#6cbf58 54%,#80cba0 60.5%,#8ad2c8 65%,#3cbaf0 71.5%,#2a90d8 75.5%,#2268bc 80%,#2a3ea4 86%,#2c2a8e 90%,#16163c 95.5%,#04040a 98.5%,#000 100%)"></div><div class="cbr"></div><div class="cbl"></div><div class="tk" style="top:34.40px"></div><div class="nb" style="width:9.3px"></div><div class="nl" style="top:30.50px">9</div><div class="tk" style="top:49.18px"></div><div class="nl" style="top:45.28px">8.1</div><div class="tk" style="top:63.96px"></div><div class="nl" style="top:60.06px">7.2</div><div class="tk" style="top:78.74px"></div><div class="nl" style="top:74.84px">6.3</div><div class="tk" style="top:93.52px"></div><div class="nl" style="top:89.62px">5.4</div><div class="tk" style="top:108.30px"></div><div class="nl" style="top:104.40px">4.5</div><div class="tk" style="top:123.08px"></div><div class="nl" style="top:119.18px">3.6</div><div class="tk" style="top:137.86px"></div><div class="nl" style="top:133.96px">2.7</div><div class="tk" style="top:152.64px"></div><div class="nl" style="top:148.74px">1.8</div><div class="tk" style="top:167.42px"></div><div class="nl" style="top:163.52px">0.9</div><div class="tk" style="top:182.20px"></div><div class="nl" style="top:178.30px">0</div><div class="vl">Value</div><div class="in"></div><div class="inv">9</div><div class="sp"><svg viewBox="0 0 10 12" style="left:-.8px;top:-.8px;width:10px;height:11.8px"><rect x=".4" y=".4" width="9.2" height="5.2" rx=".8" fill="#f4f6f8" stroke="#d4d9df" stroke-width=".7"/><rect x=".4" y="6.4" width="9.2" height="5.2" rx=".8" fill="#f4f6f8" stroke="#d4d9df" stroke-width=".7"/><path d="M3.4 4L5 2.3L6.6 4zM3.4 8L5 9.7L6.6 8z" fill="#5b86d6"/></svg></div><div class="ed"><svg viewBox="0 0 14 12" style="left:-.9px;top:-.9px;width:14px;height:11.8px"><path d="M2.6 10.4L3.1 9L8.3 3.8L9.5 5L4.3 10.2z" fill="#fafafa" stroke="#2a2a2a" stroke-width=".65"/><path d="M7.7 3L10.3 5.6" stroke="#111" stroke-width="1.3"/><path d="M9.4 3.9L10.9 2.4" stroke="#0a0a0a" stroke-width="2.7" stroke-linecap="round"/></svg></div><div class="ck" style="left:7px;top:216.4px"><svg viewBox="0 0 8 8" style="left:0;top:0;width:6.4px;height:6.4px"><path d="M1.4 3.8L3.2 6.2L6.6 1.2" stroke="#2f5fc4" stroke-width="1.3" fill="none"/></svg></div><div class="il">Intermediate levels auto-update</div><div class="bt" style="left:8.8px;width:19.3px"><svg viewBox="0 0 20 21" style="left:-.9px;top:-.9px;width:19.3px;height:21px"><path d="M10.1 6.2v8.8M5.7 10.6h8.8" stroke="#62b23c" stroke-width="2.3"/></svg></div><div class="bt" style="left:30.1px;width:19.3px"><svg viewBox="0 0 20 21" style="left:-.9px;top:-.9px;width:19.3px;height:21px"><path d="M5.6 10.5h8.8" stroke="#e3303c" stroke-width="2.3"/></svg></div><div class="ck" style="left:77.1px;top:232.2px;background:linear-gradient(135deg,#dcdee1,#f4f5f6);border-color:#b2b7bf"></div><div class="cl" style="left:87px;top:231.4px">IsoCurve</div><div class="ck" style="left:77.1px;top:243.3px;border-color:#c9ced6"></div><div class="cl" style="left:87px;top:242.6px;color:#9a9ea6">Filled</div><div class="lb" style="background:#76828f"></div><div class="lb2"></div><div class="rb"></div><div class="rb2"></div></div></div>
<div class="pn" style="left:885.4px;top:141.8px;width:137.1px;height:276.1px"><div class="pi" style="top:-0.50px;transform:scale(1.1,1.1)"><div class="tb"></div><div class="tl"></div><div class="tt">illuminance (lx)</div><div class="cx"><svg viewBox="0 0 8 8" style="left:1.1px;top:1.1px;width:5.6px;height:5.6px"><path d="M1.5 1.5h5v5h-5zM1.5 1.5l5 5M6.5 1.5l-5 5" stroke="#6a7686" stroke-width="1.1" fill="none"/></svg></div><div class="wf"></div><div class="ga"></div><div class="cb" style="background:linear-gradient(to bottom,#ffffff 0%,#fbd0d0 4.5%,#f28a8c 9%,#ea2c34 15.5%,#ea2a2e 19.5%,#f26a22 24.5%,#fbb81c 28.5%,#fbe62c 32%,#d4dc40 36.5%,#9ccc44 41.5%,#6cbc46 48%,#6cbf58 54%,#80cba0 60.5%,#8ad2c8 65%,#3cbaf0 71.5%,#2a90d8 75.5%,#2268bc 80%,#2a3ea4 86%,#2c2a8e 90%,#16163c 95.5%,#04040a 98.5%,#000 100%)"></div><div class="cbr"></div><div class="cbl"></div><div class="tk" style="top:34.40px"></div><div class="nb" style="width:13.4px"></div><div class="nl" style="top:30.50px">29</div><div class="tk" style="top:49.18px"></div><div class="nl" style="top:45.28px">26.1</div><div class="tk" style="top:63.96px"></div><div class="nl" style="top:60.06px">23.2</div><div class="tk" style="top:78.74px"></div><div class="nl" style="top:74.84px">20.3</div><div class="tk" style="top:93.52px"></div><div class="nl" style="top:89.62px">17.4</div><div class="tk" style="top:108.30px"></div><div class="nl" style="top:104.40px">14.5</div><div class="tk" style="top:123.08px"></div><div class="nl" style="top:119.18px">11.6</div><div class="tk" style="top:137.86px"></div><div class="nl" style="top:133.96px">8.7</div><div class="tk" style="top:152.64px"></div><div class="nl" style="top:148.74px">5.8</div><div class="tk" style="top:167.42px"></div><div class="nl" style="top:163.52px">2.9</div><div class="tk" style="top:182.20px"></div><div class="nl" style="top:178.30px">0</div><div class="vl">Value</div><div class="in"></div><div class="inv">29</div><div class="sp"><svg viewBox="0 0 10 12" style="left:-.8px;top:-.8px;width:10px;height:11.8px"><rect x=".4" y=".4" width="9.2" height="5.2" rx=".8" fill="#f4f6f8" stroke="#d4d9df" stroke-width=".7"/><rect x=".4" y="6.4" width="9.2" height="5.2" rx=".8" fill="#f4f6f8" stroke="#d4d9df" stroke-width=".7"/><path d="M3.4 4L5 2.3L6.6 4zM3.4 8L5 9.7L6.6 8z" fill="#5b86d6"/></svg></div><div class="ed"><svg viewBox="0 0 14 12" style="left:-.9px;top:-.9px;width:14px;height:11.8px"><path d="M2.6 10.4L3.1 9L8.3 3.8L9.5 5L4.3 10.2z" fill="#fafafa" stroke="#2a2a2a" stroke-width=".65"/><path d="M7.7 3L10.3 5.6" stroke="#111" stroke-width="1.3"/><path d="M9.4 3.9L10.9 2.4" stroke="#0a0a0a" stroke-width="2.7" stroke-linecap="round"/></svg></div><div class="ck" style="left:7px;top:216.4px"><svg viewBox="0 0 8 8" style="left:0;top:0;width:6.4px;height:6.4px"><path d="M1.4 3.8L3.2 6.2L6.6 1.2" stroke="#2f5fc4" stroke-width="1.3" fill="none"/></svg></div><div class="il">Intermediate levels auto-update</div><div class="bt" style="left:8.8px;width:19.3px"><svg viewBox="0 0 20 21" style="left:-.9px;top:-.9px;width:19.3px;height:21px"><path d="M10.1 6.2v8.8M5.7 10.6h8.8" stroke="#62b23c" stroke-width="2.3"/></svg></div><div class="bt" style="left:30.1px;width:19.3px"><svg viewBox="0 0 20 21" style="left:-.9px;top:-.9px;width:19.3px;height:21px"><path d="M5.6 10.5h8.8" stroke="#e3303c" stroke-width="2.3"/></svg></div><div class="ck" style="left:77.1px;top:232.2px;background:linear-gradient(135deg,#dcdee1,#f4f5f6);border-color:#b2b7bf"></div><div class="cl" style="left:87px;top:231.4px">IsoCurve</div><div class="ck" style="left:77.1px;top:243.3px;border-color:#c9ced6"></div><div class="cl" style="left:87px;top:242.6px;color:#9a9ea6">Filled</div><div class="lb" style="background:#76828f"></div><div class="lb2"></div><div class="rb"></div><div class="rb2"></div></div></div>
<div class="cap" style="left:149px;top:439.3px"><b>Angle:</b>0 degree Down<br><b>Height:</b>2.5m</div>
<div class="cap" style="left:468px;top:520.2px;line-height:19.2px;letter-spacing:1.09px"><b>Angle:</b>5 degree Down<br><b>Height:</b>2.5m</div>
<div class="cap" style="left:783.3px;top:439px"><b>Angle:</b>10 degree Down<br><b>Height:</b>2.5m</div>
<svg class="abs" style="left:0;top:0;width:1111px;height:769px;pointer-events:none" viewBox="0 0 1111 769"><g fill="#1676bd" fill-opacity=".27"><g transform="translate(363.3,600) rotate(-44.7)" font-family="Liberation Serif,serif" font-weight="bold" font-size="125"><text transform="translate(-2,0) scale(0.94,1)" x="0" y="0">F</text><text transform="translate(68.6,0) scale(1.1,1)" x="0" y="0">o</text><text transform="translate(138.5,0) scale(1.0,1)" x="0" y="0">r</text><text transform="translate(194,0) scale(1.0,1)" x="0" y="0">d</text><text transform="translate(278,0) scale(1.03,1)" x="0" y="0">a</text><text transform="translate(341,0) scale(0.96,1)" x="0" y="0">L</text><text transform="translate(420.4,0) scale(1.0,1)" x="0" y="0">i</text><text transform="translate(466.7,0) scale(1.0,1)" x="0" y="0">t</text><text transform="translate(517.3,0) scale(1.075,1)" x="0" y="0">e</text></g><g transform="translate(401.8,639.7) rotate(-45)" font-family="Liberation Sans,sans-serif" font-size="42"><text x="0" y="0" letter-spacing="5.9">WWW.FORDA-LED.COM</text></g></g></svg>
<div id="fbar"></div>
<div class="ft" style="left:294px">Tel:+86-020-86733871</div>
<div class="ft" style="left:508.5px">Fax:+86-020-86733872</div>
<div class="ft" style="left:730.5px">www.forda-led.com</div>
<svg class="abs" style="left:76px;top:624px;width:140px;height:56px" viewBox="76 624 140 56"><defs><filter id="lb" x="-20%" y="-20%" width="140%" height="140%"><feGaussianBlur stdDeviation=".45"/></filter><linearGradient id="l1" x1="0" y1="0" x2="1" y2="0"><stop offset="0" stop-color="#2f9c4a"/><stop offset="1" stop-color="#17843c"/></linearGradient><linearGradient id="l2" x1="0" y1="0" x2="1" y2="1"><stop offset="0" stop-color="#8cc63f"/><stop offset="1" stop-color="#c6dc3c"/></linearGradient><linearGradient id="l3" x1="0" y1="0" x2="0" y2="1"><stop offset="0" stop-color="#1ea4e0"/><stop offset="1" stop-color="#2a6fc0"/></linearGradient><linearGradient id="l4" x1="0" y1="0" x2="0" y2="1"><stop offset="0" stop-color="#1e86d4"/><stop offset="1" stop-color="#2c62b4"/></linearGradient></defs><g filter="url(#lb)"><path fill="url(#l1)" d="M88.6 639.2 Q93 638 97.2 638.2 Q98.6 635 98.9 631.8 L99.2 650.6 L88.8 650.6 Q88.2 645 88.6 639.2Z"/><path fill="url(#l2)" d="M100.4 638.4 L106.5 638.6 Q109.4 639.4 109.8 642.5 L110.2 648 Q112.5 650.2 116.4 651.2 L100.4 650.8Z"/><path fill="url(#l3)" d="M82.8 651.6 L99 652.3 L98.6 664.6 L92 664.3 Q89.4 663.6 89.1 660.5 L88.9 654.6 Q86.6 652.6 82.8 651.6Z"/><path fill="url(#l4)" d="M100.3 652.6 L110.6 652.4 L110.6 664.3 Q105.5 664.8 101.6 664.4 Q100.6 668.5 100.2 672.6Z"/></g><path d="M119.7 641V661.8" stroke="#b4b7bb" stroke-width=".7"/><g font-family="Liberation Serif,serif" font-weight="bold" font-size="18.2" filter="url(#lb)"><text x="125.2" y="653.7" fill="#1b72b8" textLength="44.2" lengthAdjust="spacingAndGlyphs">Forda</text><text x="170" y="653.7" fill="#3ba84f" textLength="30.2" lengthAdjust="spacingAndGlyphs">Lite</text></g><text x="125.4" y="660.9" font-family="Liberation Sans,sans-serif" font-size="4.6" fill="#6d7276" textLength="74.6" lengthAdjust="spacingAndGlyphs">Guangzhou Forda Signal Co.,Ltd</text></svg>
</body></html>
